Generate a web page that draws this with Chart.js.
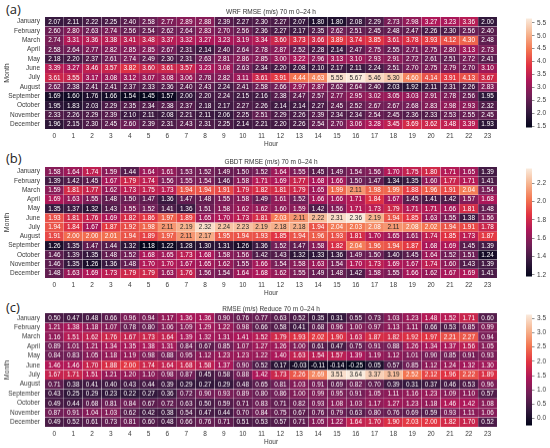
<!DOCTYPE html>
<html>
<head>
<meta charset="utf-8">
<script src="https://cdn.jsdelivr.net/npm/chart.js@4/dist/chart.umd.min.js"></script>
<style>
html,body{margin:0;padding:0;background:#fff;width:550px;height:448px;overflow:hidden}
canvas{position:absolute;display:block}
.tag{position:absolute;left:6px;font:13px "Open Sans",sans-serif;color:#222;line-height:16px}
</style>
</head>
<body>
<div class="tag" style="top:1px">(a)</div>
<div class="tag" style="top:150px">(b)</div>
<div class="tag" style="top:299px">(c)</div>
<canvas id="h0"></canvas><canvas id="c0"></canvas>
<canvas id="h1"></canvas><canvas id="c1"></canvas>
<canvas id="h2"></canvas><canvas id="c2"></canvas>
<script>
const months = ["January","February","March","April","May","June","July","August","September","October","November","December"];
const hours = ["0","1","2","3","4","5","6","7","8","9","10","11","12","13","14","15","16","17","18","19","20","21","22","23"];

const wrfRmse = [
[2.07,2.11,2.22,2.25,2.40,2.58,2.77,2.89,2.88,2.39,2.27,2.30,2.27,2.07,1.80,1.80,2.08,2.29,2.73,2.98,3.27,3.23,3.36,2.00],
[2.60,2.80,2.63,2.74,2.56,2.54,2.62,2.64,2.83,2.70,2.56,2.36,2.27,2.17,2.35,2.62,2.51,2.45,2.48,2.47,2.26,2.30,2.56,2.40],
[2.74,3.31,3.36,3.38,3.41,3.48,3.37,3.32,3.27,3.23,3.19,3.34,3.60,3.73,3.66,3.89,3.74,3.85,3.61,3.78,3.93,4.12,4.30,2.48],
[2.58,2.64,2.77,2.82,2.85,2.85,2.67,2.31,2.14,2.40,2.64,2.78,2.87,2.52,2.28,2.14,2.47,2.75,2.55,2.71,2.75,2.80,3.13,2.73],
[2.18,2.20,2.37,2.61,2.74,2.49,2.30,2.31,2.63,2.81,2.86,2.85,3.00,3.22,2.96,3.13,3.10,2.93,2.91,2.72,2.61,2.51,2.72,2.41],
[3.39,3.27,3.46,3.57,3.82,3.60,3.61,3.57,3.23,3.08,2.63,2.34,2.20,2.08,2.10,2.17,2.11,2.24,2.51,2.70,2.75,2.79,2.70,3.10],
[3.61,3.55,3.17,3.08,3.12,3.07,3.08,3.06,2.78,2.82,3.11,3.61,3.91,4.44,4.63,5.55,5.67,5.46,5.30,4.60,4.14,3.91,4.13,3.67],
[2.62,2.38,2.41,2.41,2.37,2.33,2.36,2.40,2.43,2.24,2.41,2.58,2.66,2.97,2.87,2.62,2.64,2.40,2.03,1.92,2.11,2.31,2.26,2.83],
[1.69,1.60,1.76,1.66,1.54,1.45,1.57,2.00,2.20,2.24,2.15,2.16,2.38,2.47,2.57,2.77,2.95,3.02,3.05,3.03,2.91,2.78,2.56,1.95],
[1.95,1.83,2.03,2.29,2.35,2.34,2.38,2.37,2.18,2.17,2.27,2.26,2.14,2.14,2.27,2.45,2.52,2.67,2.67,2.68,2.83,2.98,2.93,2.32],
[2.33,2.26,2.29,2.39,2.10,2.11,2.08,2.21,2.11,2.06,2.25,2.51,2.29,2.26,2.39,2.34,2.34,2.54,2.45,2.36,2.33,2.53,2.55,2.45],
[1.96,2.15,2.30,2.45,2.60,2.39,2.31,2.43,2.31,2.25,2.14,2.21,2.20,2.26,2.54,2.70,3.06,3.28,3.45,3.69,3.62,3.48,3.39,1.93]
];

const gbdtRmse = [
[1.58,1.64,1.74,1.59,1.44,1.64,1.61,1.53,1.52,1.49,1.50,1.52,1.64,1.55,1.45,1.49,1.54,1.56,1.70,1.75,1.80,1.71,1.65,1.39],
[1.39,1.42,1.45,1.67,1.79,1.74,1.56,1.55,1.54,1.46,1.58,1.71,1.69,1.77,1.68,1.66,1.50,1.47,1.34,1.35,1.60,1.77,1.71,1.41],
[1.59,1.81,1.77,1.62,1.73,1.75,1.73,1.94,1.94,1.91,1.79,1.82,1.81,1.79,1.65,1.99,2.11,1.98,1.99,1.88,1.96,1.91,2.04,1.54],
[1.69,1.63,1.55,1.48,1.50,1.47,1.36,1.47,1.48,1.55,1.58,1.49,1.61,1.52,1.66,1.66,1.71,1.84,1.67,1.45,1.41,1.42,1.57,1.68],
[1.35,1.37,1.32,1.43,1.55,1.52,1.41,1.36,1.51,1.58,1.62,1.62,1.60,1.59,1.42,1.56,1.71,1.73,1.79,1.71,1.71,1.66,1.81,1.48],
[1.93,1.81,1.76,1.69,1.82,1.86,1.97,1.89,1.65,1.70,1.73,1.81,2.03,2.11,2.22,2.31,2.36,2.19,1.94,1.85,1.63,1.55,1.38,1.56],
[1.94,1.84,1.67,1.87,1.92,1.98,2.11,2.19,2.32,2.24,2.23,2.19,2.18,2.18,1.94,2.04,2.03,2.08,2.11,2.08,2.02,1.94,1.91,1.78],
[1.91,2.00,2.00,2.01,1.94,1.89,1.97,2.11,2.17,1.95,1.94,1.93,1.85,1.94,1.96,1.93,1.81,1.70,1.65,1.61,1.74,1.85,1.73,1.87],
[1.26,1.35,1.47,1.44,1.32,1.18,1.22,1.28,1.30,1.31,1.26,1.36,1.52,1.47,1.58,1.82,2.04,1.96,1.94,1.87,1.68,1.69,1.45,1.39],
[1.46,1.39,1.35,1.48,1.52,1.68,1.65,1.73,1.68,1.58,1.56,1.42,1.43,1.32,1.33,1.36,1.49,1.50,1.40,1.45,1.64,1.52,1.51,1.24],
[1.46,1.35,1.26,1.36,1.48,1.70,1.70,1.67,1.65,1.62,1.55,1.66,1.54,1.58,1.63,1.54,1.70,1.73,1.69,1.67,1.74,1.60,1.43,1.39],
[1.48,1.63,1.69,1.73,1.79,1.79,1.63,1.76,1.56,1.54,1.64,1.68,1.62,1.55,1.49,1.48,1.42,1.58,1.55,1.66,1.62,1.67,1.69,1.41]
];

const rmseReduce = [
[0.50,0.47,0.48,0.66,0.96,0.94,1.17,1.36,1.36,0.90,0.76,0.77,0.63,0.52,0.35,0.31,0.55,0.73,1.03,1.23,1.48,1.52,1.71,0.60],
[1.21,1.38,1.18,1.07,0.78,0.80,1.06,1.09,1.29,1.22,0.98,0.66,0.58,0.41,0.68,0.96,1.00,0.97,1.13,1.11,0.66,0.53,0.85,0.99],
[1.16,1.51,1.62,1.76,1.67,1.73,1.64,1.39,1.32,1.31,1.41,1.52,1.79,1.93,2.02,1.90,1.63,1.87,1.82,1.92,1.97,2.21,2.27,0.94],
[0.89,1.01,1.21,1.34,1.35,1.38,1.31,0.84,0.67,0.85,1.07,1.27,1.26,1.00,0.61,0.47,0.75,0.91,0.88,1.26,1.34,1.37,1.56,1.05],
[0.84,0.83,1.05,1.18,1.19,0.98,0.88,0.95,1.12,1.23,1.23,1.22,1.40,1.63,1.54,1.57,1.39,1.19,1.12,1.01,0.90,0.85,0.91,0.93],
[1.46,1.46,1.70,1.88,2.00,1.74,1.64,1.68,1.58,1.37,0.90,0.52,0.17,-0.03,-0.11,-0.14,-0.25,0.05,0.57,0.85,1.12,1.24,1.32,1.30],
[1.67,1.71,1.51,1.21,1.20,1.10,0.98,0.87,0.45,0.58,0.88,1.42,1.73,2.26,2.69,3.51,3.64,3.37,3.19,2.52,2.12,1.96,2.22,1.89],
[0.71,0.38,0.41,0.40,0.43,0.44,0.39,0.29,0.27,0.29,0.48,0.65,0.81,1.03,0.91,0.69,0.82,0.70,0.39,0.31,0.37,0.46,0.53,0.96],
[0.43,0.25,0.29,0.23,0.22,0.27,0.36,0.72,0.90,0.93,0.89,0.80,0.86,1.00,0.99,0.95,0.91,1.05,1.11,1.16,1.23,1.09,1.10,0.57],
[0.49,0.44,0.68,0.81,0.84,0.67,0.72,0.63,0.50,0.59,0.71,0.83,0.71,0.82,0.93,1.08,1.03,1.17,1.27,1.23,1.18,1.46,1.42,1.08],
[0.87,0.91,1.04,1.03,0.62,0.42,0.38,0.54,0.47,0.44,0.70,0.84,0.75,0.67,0.76,0.79,0.63,0.80,0.76,0.69,0.59,0.93,1.11,1.06],
[0.49,0.52,0.61,0.73,0.81,0.60,0.48,0.66,0.76,0.71,0.51,0.53,0.57,0.71,1.05,1.22,1.64,1.70,1.90,2.03,2.00,1.82,1.70,0.52]
];

const wrfTicks = [1.5,2.0,2.5,3.0,3.5,4.0,4.5,5.0,5.5];
const gbdtTicks = [1.2,1.4,1.6,1.8,2.0,2.2];
const reduceTicks = [0.0,0.5,1.0,1.5,2.0,2.5,3.0,3.5];
const titles = ["WRF RMSE (m/s) 70 m 0\u201324 h","GBDT RMSE (m/s) 70 m 0\u201324 h","RMSE (m/s) Reduce 70 m 0\u201324 h"];

// seaborn "rocket" colour ramp
const ramp = [[3,5,26],[53,25,62],[112,31,87],[173,23,89],[225,51,66],[243,118,81],[246,180,143],[250,235,221]];
function rampColor(t){
  t = Math.max(0,Math.min(1,t))*(ramp.length-1);
  const i = Math.min(ramp.length-2,Math.floor(t)), f = t-i;
  return ramp[i].map((c,k)=>c+(ramp[i+1][k]-c)*f);
}
const css = c => `rgb(${c.map(Math.round).join(",")})`;
function lum(c){
  const l = c.map(v=>{v/=255;return v<=0.03928?v/12.92:Math.pow((v+0.055)/1.055,2.4)});
  return 0.2126*l[0]+0.7152*l[1]+0.0722*l[2];
}
const tickColor = "#3a3a3a";
const tickFont = {family:"'Liberation Sans',Arial,sans-serif",size:6.5};

const cellText = {
  id:"cellText",
  afterDatasetsDraw(chart){
    const {ctx,scales:{x,y}} = chart, o = chart.options.plugins.cellText;
    ctx.save();
    ctx.font = "6.4px 'Liberation Sans',Arial,sans-serif";
    ctx.textAlign = "center"; ctx.textBaseline = "middle";
    chart.data.datasets.forEach((ds,m)=>ds.data.forEach((d,h)=>{
      const c = rampColor((d.v-o.min)/(o.max-o.min));
      ctx.fillStyle = lum(c)>0.408 ? "#262626" : "#ffffff";
      ctx.fillText(d.v.toFixed(2), x.getPixelForValue(h), y.getPixelForValue(m+0.5)+0.3);
    }));
    ctx.restore();
  }
};

function setBox(cv,l,t,w,h){cv.width=w;cv.height=h;cv.style.left=l+"px";cv.style.top=t+"px";cv.style.width=w+"px";cv.style.height=h+"px";}

function panel(i,rows,ticks,top,bottom,titlePadTop,titlePadBottom){
  const flat = rows.flat(), min = Math.min(...flat), max = Math.max(...flat);
  const head = 17, foot = 23;
  const cv = document.getElementById("h"+i);
  setBox(cv,0,top-head,497,bottom-top+head+foot);
  new Chart(cv,{
    type:"bar",
    data:{
      labels:hours,
      datasets:rows.map((row,m)=>({
        label:months[m],
        data:row.map((v,h)=>({x:hours[h],y:[m,m+1],v})),
        grouped:false,
        barPercentage:1,categoryPercentage:1,
        borderSkipped:false,borderWidth:0.35,borderColor:"rgba(255,255,255,0.85)",
        backgroundColor:c=>css(rampColor((c.raw.v-min)/(max-min)))
      }))
    },
    options:{
      responsive:false,animation:false,devicePixelRatio:1,
      layout:{padding:0},
      plugins:{
        legend:{display:false},tooltip:{enabled:false},
        cellText:{min,max},
        title:{display:true,text:titles[i],fullSize:false,color:"#333",
          font:{family:tickFont.family,size:6.5,weight:"normal"},
          padding:{top:titlePadTop+0.6,bottom:titlePadBottom}}
      },
      scales:{
        x:{type:"category",grid:{display:false,drawTicks:false},border:{display:false},
          ticks:{color:tickColor,font:tickFont,padding:3.5,maxRotation:0,autoSkip:false},
          title:{display:true,text:"Hour",color:tickColor,font:tickFont,padding:{top:0,bottom:3.4}},
          afterFit(s){s.height=foot}},
        y:{type:"linear",min:0,max:12,reverse:true,grid:{display:false,drawTicks:false},border:{display:false},
          afterBuildTicks(s){s.ticks=months.map((_,k)=>({value:k+0.5}))},
          ticks:{color:tickColor,font:tickFont,padding:5,autoSkip:false,callback:v=>months[Math.floor(v)]},
          title:{display:true,text:"Month",color:tickColor,font:{family:tickFont.family,size:7},padding:{top:3,bottom:0}},
          afterFit(s){s.width=45}}
      }
    },
    plugins:[cellText]
  });

  const cb = document.getElementById("c"+i);
  setBox(cb,526,top-5,24,bottom-top+10);
  new Chart(cb,{
    type:"bar",
    data:{labels:[""],datasets:[{
      data:[[min,max]],barPercentage:1,categoryPercentage:1,borderWidth:0,
      backgroundColor(c){
        const a = c.chart.chartArea; if(!a) return "#000";
        const g = c.chart.ctx.createLinearGradient(0,a.bottom,0,a.top);
        ramp.forEach((r,k)=>g.addColorStop(k/(ramp.length-1),css(r)));
        return g;
      }
    }]},
    options:{
      responsive:false,animation:false,devicePixelRatio:1,
      layout:{padding:{top:5,bottom:5}},
      plugins:{legend:{display:false},tooltip:{enabled:false}},
      scales:{
        x:{display:false},
        y:{position:"right",min,max,border:{display:false},
          grid:{drawOnChartArea:false,drawTicks:true,tickLength:2.5,color:"#444",lineWidth:0.6},
          afterBuildTicks(s){s.ticks=ticks.map(value=>({value}))},
          ticks:{color:tickColor,font:tickFont,padding:2.5,autoSkip:false,callback:v=>v.toFixed(1)},
          afterFit(s){s.width=18}}
      }
    }
  });
}

panel(0,wrfRmse,wrfTicks,17,129,7.8,0.8);
panel(1,gbdtRmse,gbdtTicks,167,278,7.3,1.3);
panel(2,rmseReduce,reduceTicks,313.3,426.7,8.3,0.3);
</script>
</body>
</html>
